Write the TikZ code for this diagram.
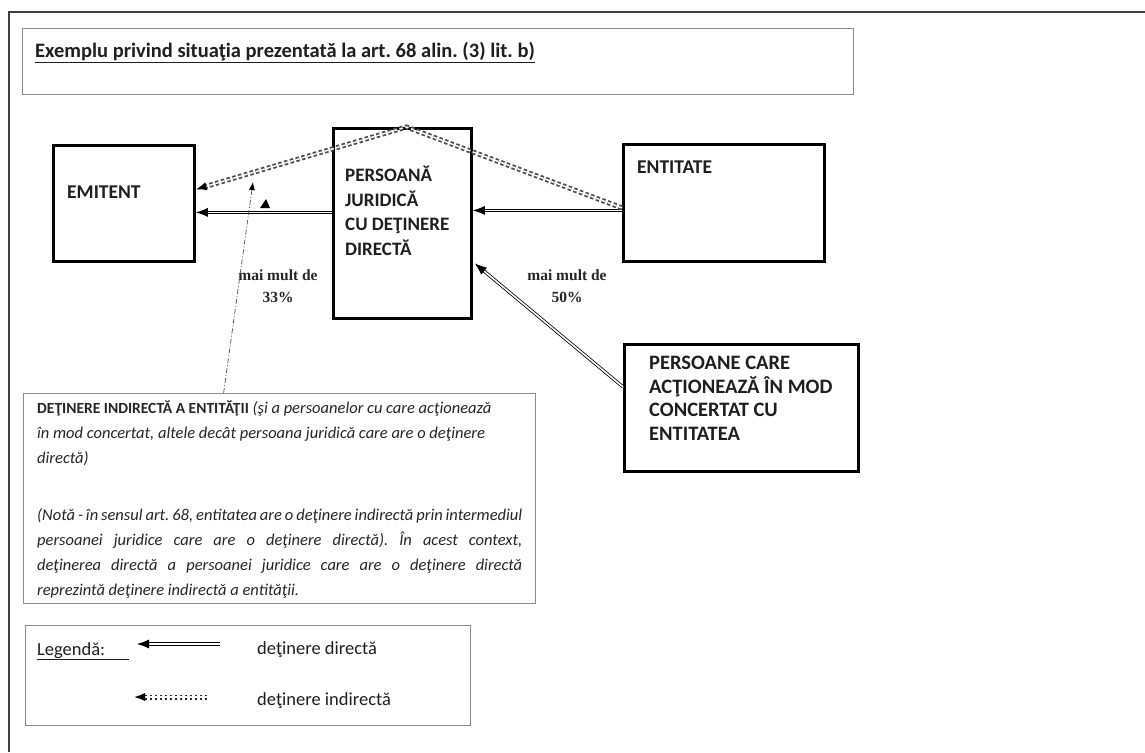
\documentclass[tikz,border=0pt]{standalone}
\usepackage{fontspec}
\setmainfont{Carlito}
\newfontfamily\tnr{Liberation Serif}
\usetikzlibrary{arrows.meta,calc}
\frenchspacing
\begin{document}
\begin{tikzpicture}[x=1pt,y=-1pt,
  frameline/.style={draw=black!75,line width=1.4pt},
  thickbox/.style={draw=black,line width=2.8pt,inner sep=0pt,anchor=north west},
  thinbox/.style={draw=black!45,line width=1.2pt,inner sep=0pt,anchor=north west},
  lbl/.style={inner sep=0pt,anchor=north west,align=left,text=black!88,
    font=\fontsize{19.5}{24}\selectfont\bfseries},
  pct/.style={inner sep=0pt,align=center,text=black!85,
    font=\tnr\bfseries\fontsize{15.5}{22}\selectfont},
  direct/.style={draw=black,double=white,double distance=1.6pt,line width=0.8pt,
    -{Latex[length=12pt,width=9pt]}},
  indirect/.style={draw=black!70,double=white,double distance=1.4pt,line width=1.8pt,
    dash pattern=on 3.5pt off 2.5pt,-{Latex[length=11pt,width=8.5pt,fill=black,color=black]}},
  pointer/.style={draw=black!70,line width=0.7pt,dash pattern=on 5pt off 2pt on 1pt off 2pt,
    -{Latex[length=8pt,width=6pt,color=black]}}
]
\useasboundingbox (0,0) rectangle (1145,752);
\fill[white] (0,0) rectangle (1145,752);
% outer frame
\draw[frameline] (9,752) -- (9,12) -- (1145,12);

% title
\node[thinbox,minimum width=831pt,minimum height=66pt] (tbox) at (22,28) {};
\node[lbl,font=\fontsize{20.5}{24}\selectfont\bfseries] (ttl) at ([shift={(13,14)}]tbox.north west)
  {\underline{Exemplu privind situaţia prezentată la art. 68 alin. (3) lit. b)}};

% diagram boxes
\node[thickbox,minimum width=141pt,minimum height=116pt] (emi) at (52,144) {};
\node[thickbox,minimum width=138pt,minimum height=190pt] (pj) at (332,127) {};
\node[thickbox,minimum width=201pt,minimum height=117pt] (ent) at (622,143) {};
\node[thickbox,minimum width=234pt,minimum height=127pt] (pers) at (623,343) {};

\node[lbl] (emit) at ([shift={(15,42)}]emi.north west) {EMITENT};
\node[lbl,font=\fontsize{19}{24.5}\selectfont\bfseries] (pjt) at ([shift={(13,39)}]pj.north west)
  {PERSOANĂ\\JURIDICĂ\\CU DEŢINERE\\DIRECTĂ};
\node[lbl] (entt) at ([shift={(15,17.5)}]ent.north west) {ENTITATE};
\node[lbl,font=\fontsize{20.5}{23.5}\selectfont\bfseries] (perst) at ([shift={(26,13)}]pers.north west)
  {PERSOANE CARE\\ACŢIONEAZĂ ÎN MOD\\CONCERTAT CU\\ENTITATEA};

% percentage labels
\node[pct] (p33) at (278,286) {mai mult de\\33\%};
\node[pct] (p50) at (567,286) {mai mult de\\50\%};

% explanation box
\node[thinbox,minimum width=512pt,minimum height=210pt] (ind) at (23,393) {};
\node[inner sep=0pt,anchor=north west,text width=485pt,align=justify,text=black!85,
  font=\fontsize{16.5}{25}\selectfont] (indt) at ([shift={(14,8)}]ind.north west)
  {{\fontsize{15.5}{25}\selectfont\bfseries DEŢINERE INDIRECTĂ A ENTITĂŢII} {\itshape (şi a persoanelor cu care acţionează\newline
   în mod concertat, altele decât persoana juridică care are o deţinere\newline
   directă)}\par\vspace{32pt}
   {\itshape (Notă - în sensul art. 68, entitatea are o deţinere indirectă prin intermediul\linebreak
   persoanei juridice care are o deţinere directă). În acest context,\linebreak
   deţinerea directă a persoanei juridice care are o deţinere directă\linebreak
   reprezintă deţinere indirectă a entităţii.}};

% legend
\node[thinbox,minimum width=445pt,minimum height=100pt] (leg) at (25,625) {};
\node[lbl,font=\fontsize{18.5}{20}\selectfont] (legt) at ([shift={(12,17)}]leg.north west)
  {\underline{Legendă:\hspace{24pt}}};
\node[lbl,font=\fontsize{18.5}{20}\selectfont] (legd) at ([shift={(232,16)}]leg.north west) {deţinere directă};
\node[lbl,font=\fontsize{18.5}{20}\selectfont] (legi) at ([shift={(232,67)}]leg.north west) {deţinere indirectă};
\coordinate (ld1) at (220,644);
\coordinate (ld2) at (137,644);
\coordinate (li1) at (207,697);
\coordinate (li2) at (134,697);
\draw[direct] (ld1) -- (ld2);
\draw[indirect,draw=black!85,dash pattern=on 2.5pt off 2.5pt] (li1) -- (li2);

% connectors
\draw[direct] ([yshift=-7.5pt]ent.west) -- ([yshift=13pt]pj.east);
\draw[direct] ([yshift=11pt]pj.west) -- ([yshift=-9pt]emi.east);
\draw[direct] ([yshift=21pt]pers.west) -- ([shift={(2pt,-40pt)}]pj.east);
\draw[indirect] ([yshift=-5pt]ent.west) -- ([xshift=4pt]pj.north) -- ([yshift=14pt]emi.east);
\coordinate (ptip) at (253,182);
\draw[pointer] ([xshift=-56pt]ind.north) -- (ptip);
\fill[black] (260,208) -- (270,208) -- (266,199) -- cycle;
\end{tikzpicture}
\end{document}
